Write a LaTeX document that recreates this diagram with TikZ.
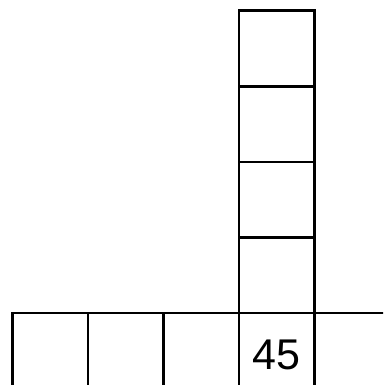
\documentclass[tikz,border=0pt]{standalone}
\usepackage{fontspec}
\setmainfont{Liberation Sans}
\begin{document}
\begin{tikzpicture}[x=1pt,y=-1pt,
  cell/.style={draw=black,line width=2.6pt,minimum width=75.6pt,minimum height=75.6pt,inner sep=0pt,outer sep=0pt,anchor=north west},
  lbl/.style={font=\fontsize{43}{50}\selectfont,inner sep=0pt,anchor=base}]
\useasboundingbox (0,0) rectangle (383,385);
\clip (0,0) rectangle (383,385);
% vertical column
\node[cell] (c1) at (239,10.7) {};
\node[cell] (c2) at (239,86.3) {};
\node[cell] (c3) at (239,161.9) {};
\node[cell] (c4) at (239,237.5) {};
% bottom row
\node[cell] (r1) at (12.2,313.1) {};
\node[cell] (r2) at (87.8,313.1) {};
\node[cell] (r3) at (163.4,313.1) {};
\node[cell] (r4) at (239,313.1) {};
\node[cell] (r5) at (314.6,313.1) {};
\node[lbl] (t) at (276.8,369.5) {45};
\end{tikzpicture}
\end{document}
